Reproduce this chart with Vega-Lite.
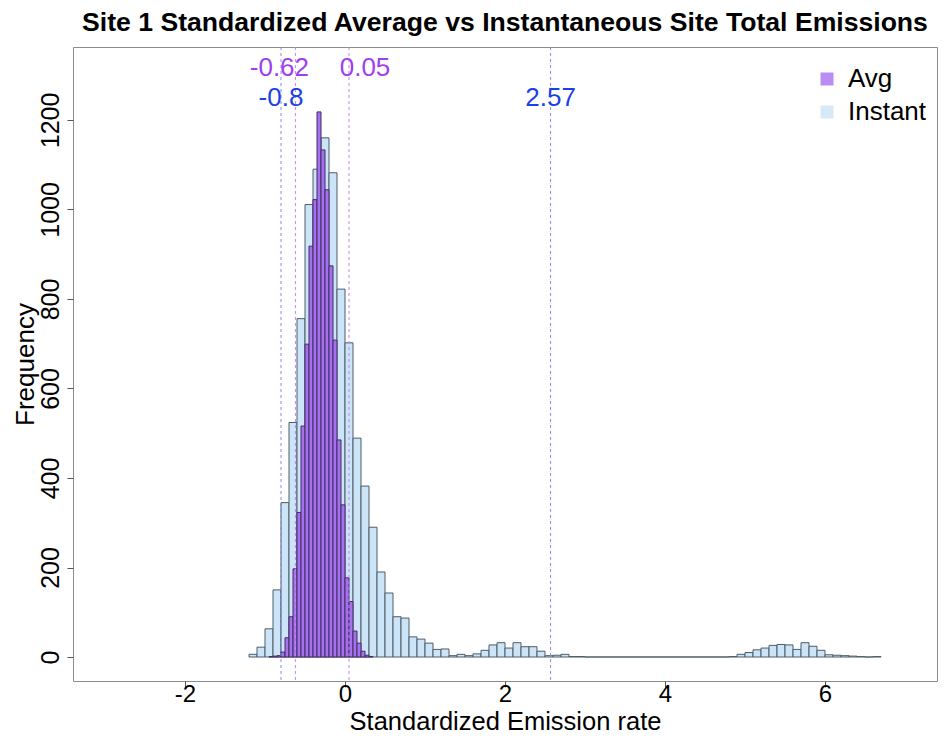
{
  "$schema": "https://vega.github.io/schema/vega-lite/v6.json",
  "width": 864,
  "height": 634,
  "autosize": {"type": "none"},
  "padding": {"left": 73, "top": 47, "right": 14, "bottom": 61},
  "background": "white",
  "title": {"text": "Site 1 Standardized Average vs Instantaneous Site Total Emissions", "font": "Liberation Sans", "fontSize": 26.6, "fontWeight": "bold", "color": "#000000", "anchor": "middle", "offset": 10},
  "config": {"view": {"stroke": "#8c8c8c", "strokeWidth": 1}, "font": "Liberation Sans"},
  "datasets": {
    "hist": [
      {"series": "Instant", "start": -1.2, "end": -1.1, "count": 6},
      {"series": "Instant", "start": -1.1, "end": -1.0, "count": 22},
      {"series": "Instant", "start": -1.0, "end": -0.9, "count": 63},
      {"series": "Instant", "start": -0.9, "end": -0.8, "count": 150},
      {"series": "Instant", "start": -0.8, "end": -0.7, "count": 345},
      {"series": "Instant", "start": -0.7, "end": -0.6, "count": 524},
      {"series": "Instant", "start": -0.6, "end": -0.5, "count": 756},
      {"series": "Instant", "start": -0.5, "end": -0.4, "count": 1011},
      {"series": "Instant", "start": -0.4, "end": -0.3, "count": 1090},
      {"series": "Instant", "start": -0.3, "end": -0.2, "count": 1160},
      {"series": "Instant", "start": -0.2, "end": -0.1, "count": 1082},
      {"series": "Instant", "start": -0.1, "end": 0.0, "count": 822},
      {"series": "Instant", "start": 0.0, "end": 0.1, "count": 702},
      {"series": "Instant", "start": 0.1, "end": 0.2, "count": 489},
      {"series": "Instant", "start": 0.2, "end": 0.3, "count": 382},
      {"series": "Instant", "start": 0.3, "end": 0.4, "count": 290},
      {"series": "Instant", "start": 0.4, "end": 0.5, "count": 190},
      {"series": "Instant", "start": 0.5, "end": 0.6, "count": 143},
      {"series": "Instant", "start": 0.6, "end": 0.7, "count": 90},
      {"series": "Instant", "start": 0.7, "end": 0.8, "count": 87},
      {"series": "Instant", "start": 0.8, "end": 0.9, "count": 45},
      {"series": "Instant", "start": 0.9, "end": 1.0, "count": 40},
      {"series": "Instant", "start": 1.0, "end": 1.1, "count": 31},
      {"series": "Instant", "start": 1.1, "end": 1.2, "count": 17},
      {"series": "Instant", "start": 1.2, "end": 1.3, "count": 18},
      {"series": "Instant", "start": 1.3, "end": 1.4, "count": 3},
      {"series": "Instant", "start": 1.4, "end": 1.5, "count": 6},
      {"series": "Instant", "start": 1.5, "end": 1.6, "count": 3},
      {"series": "Instant", "start": 1.6, "end": 1.7, "count": 7},
      {"series": "Instant", "start": 1.7, "end": 1.8, "count": 15},
      {"series": "Instant", "start": 1.8, "end": 1.9, "count": 27},
      {"series": "Instant", "start": 1.9, "end": 2.0, "count": 32},
      {"series": "Instant", "start": 2.0, "end": 2.1, "count": 20},
      {"series": "Instant", "start": 2.1, "end": 2.2, "count": 32},
      {"series": "Instant", "start": 2.2, "end": 2.3, "count": 23},
      {"series": "Instant", "start": 2.3, "end": 2.4, "count": 23},
      {"series": "Instant", "start": 2.4, "end": 2.5, "count": 13},
      {"series": "Instant", "start": 2.5, "end": 2.6, "count": 3},
      {"series": "Instant", "start": 2.6, "end": 2.7, "count": 4},
      {"series": "Instant", "start": 2.7, "end": 2.8, "count": 6},
      {"series": "Instant", "start": 2.8, "end": 2.9, "count": 1},
      {"series": "Instant", "start": 2.9, "end": 3.0, "count": 1},
      {"series": "Instant", "start": 3.0, "end": 3.1, "count": 0},
      {"series": "Instant", "start": 3.1, "end": 3.2, "count": 0},
      {"series": "Instant", "start": 3.2, "end": 3.3, "count": 0},
      {"series": "Instant", "start": 3.3, "end": 3.4, "count": 0},
      {"series": "Instant", "start": 3.4, "end": 3.5, "count": 0},
      {"series": "Instant", "start": 3.5, "end": 3.6, "count": 0},
      {"series": "Instant", "start": 3.6, "end": 3.7, "count": 0},
      {"series": "Instant", "start": 3.7, "end": 3.8, "count": 0},
      {"series": "Instant", "start": 3.8, "end": 3.9, "count": 0},
      {"series": "Instant", "start": 3.9, "end": 4.0, "count": 0},
      {"series": "Instant", "start": 4.0, "end": 4.1, "count": 0},
      {"series": "Instant", "start": 4.1, "end": 4.2, "count": 0},
      {"series": "Instant", "start": 4.2, "end": 4.3, "count": 0},
      {"series": "Instant", "start": 4.3, "end": 4.4, "count": 0},
      {"series": "Instant", "start": 4.4, "end": 4.5, "count": 0},
      {"series": "Instant", "start": 4.5, "end": 4.6, "count": 0},
      {"series": "Instant", "start": 4.6, "end": 4.7, "count": 0},
      {"series": "Instant", "start": 4.7, "end": 4.8, "count": 0},
      {"series": "Instant", "start": 4.8, "end": 4.9, "count": 1},
      {"series": "Instant", "start": 4.9, "end": 5.0, "count": 6},
      {"series": "Instant", "start": 5.0, "end": 5.1, "count": 10},
      {"series": "Instant", "start": 5.1, "end": 5.2, "count": 16},
      {"series": "Instant", "start": 5.2, "end": 5.3, "count": 20},
      {"series": "Instant", "start": 5.3, "end": 5.4, "count": 26},
      {"series": "Instant", "start": 5.4, "end": 5.5, "count": 28},
      {"series": "Instant", "start": 5.5, "end": 5.6, "count": 27},
      {"series": "Instant", "start": 5.6, "end": 5.7, "count": 17},
      {"series": "Instant", "start": 5.7, "end": 5.8, "count": 32},
      {"series": "Instant", "start": 5.8, "end": 5.9, "count": 24},
      {"series": "Instant", "start": 5.9, "end": 6.0, "count": 15},
      {"series": "Instant", "start": 6.0, "end": 6.1, "count": 5},
      {"series": "Instant", "start": 6.1, "end": 6.2, "count": 4},
      {"series": "Instant", "start": 6.2, "end": 6.3, "count": 3},
      {"series": "Instant", "start": 6.3, "end": 6.4, "count": 2},
      {"series": "Instant", "start": 6.4, "end": 6.5, "count": 1},
      {"series": "Instant", "start": 6.5, "end": 6.6, "count": 0},
      {"series": "Instant", "start": 6.6, "end": 6.7, "count": 1},
      {"series": "Avg", "start": -0.95, "end": -0.9, "count": 1},
      {"series": "Avg", "start": -0.9, "end": -0.85, "count": 2},
      {"series": "Avg", "start": -0.85, "end": -0.8, "count": 3},
      {"series": "Avg", "start": -0.8, "end": -0.75, "count": 11},
      {"series": "Avg", "start": -0.75, "end": -0.7, "count": 43},
      {"series": "Avg", "start": -0.7, "end": -0.65, "count": 90},
      {"series": "Avg", "start": -0.65, "end": -0.6, "count": 197},
      {"series": "Avg", "start": -0.6, "end": -0.55, "count": 323},
      {"series": "Avg", "start": -0.55, "end": -0.5, "count": 516},
      {"series": "Avg", "start": -0.5, "end": -0.45, "count": 699},
      {"series": "Avg", "start": -0.45, "end": -0.4, "count": 918},
      {"series": "Avg", "start": -0.4, "end": -0.35, "count": 1022},
      {"series": "Avg", "start": -0.35, "end": -0.3, "count": 1218},
      {"series": "Avg", "start": -0.3, "end": -0.25, "count": 1133},
      {"series": "Avg", "start": -0.25, "end": -0.2, "count": 1044},
      {"series": "Avg", "start": -0.2, "end": -0.15, "count": 874},
      {"series": "Avg", "start": -0.15, "end": -0.1, "count": 708},
      {"series": "Avg", "start": -0.1, "end": -0.05, "count": 485},
      {"series": "Avg", "start": -0.05, "end": 0.0, "count": 340},
      {"series": "Avg", "start": 0.0, "end": 0.05, "count": 177},
      {"series": "Avg", "start": 0.05, "end": 0.1, "count": 124},
      {"series": "Avg", "start": 0.1, "end": 0.15, "count": 58},
      {"series": "Avg", "start": 0.15, "end": 0.2, "count": 31},
      {"series": "Avg", "start": 0.2, "end": 0.25, "count": 13},
      {"series": "Avg", "start": 0.25, "end": 0.3, "count": 4},
      {"series": "Avg", "start": 0.3, "end": 0.35, "count": 1}
    ],
    "lines": [
      {"series": "Avg", "value": -0.62, "label": "-0.62"},
      {"series": "Avg", "value": 0.05, "label": "0.05"},
      {"series": "Instant", "value": -0.8, "label": "-0.8"},
      {"series": "Instant", "value": 2.57, "label": "2.57"}
    ]
  },
  "layer": [
    {
      "data": {"name": "hist"},
      "transform": [{"filter": "datum.series === 'Instant'"}],
      "mark": {"type": "bar", "stroke": "#4f5c68", "strokeWidth": 1},
      "encoding": {
        "x": {"field": "start", "type": "quantitative",
              "scale": {"domain": [-3.4, 7.4], "nice": false, "zero": false},
              "axis": {"values": [-2, 0, 2, 4, 6], "labelExpr": "'' + datum.value", "title": "Standardized Emission rate", "grid": false, "domain": false,
                       "labelFontSize": 24, "labelColor": "#000000", "labelFont": "Liberation Sans", "labelPadding": -5,
                       "tickSize": 6, "tickColor": "#555555", "titleFontSize": 25.5, "titleFontWeight": "normal", "titleColor": "#000000",
                       "titleFont": "Liberation Sans", "titleY": 40, "titleBaseline": "middle"}},
        "x2": {"field": "end"},
        "y": {"field": "count", "type": "quantitative", "stack": null,
              "scale": {"domain": [-53.6, 1363], "nice": false, "zero": false},
              "axis": {"values": [0, 200, 400, 600, 800, 1000, 1200], "format": "d", "title": "Frequency", "grid": false, "domain": false,
                       "labelFontSize": 25, "labelColor": "#000000", "labelFont": "Liberation Sans", "labelAngle": 270,
                       "labelAlign": "center", "labelBaseline": "bottom", "labelPadding": 4,
                       "tickSize": 6, "tickColor": "#555555", "titleFontSize": 26, "titleFontWeight": "normal", "titleColor": "#000000",
                       "titleFont": "Liberation Sans", "titleAngle": 270, "titleX": -48, "titleY": 317, "titleAlign": "center", "titleBaseline": "middle"}},
        "y2": {"datum": 0},
        "color": {"field": "series", "type": "nominal",
                  "scale": {"domain": ["Avg", "Instant"], "range": ["#a770ef", "#cce4f8"]},
                  "legend": {"title": null, "orient": "none", "legendX": 741, "legendY": 19, "padding": 0,
                             "labelFontSize": 26, "labelFont": "Liberation Sans", "labelColor": "#000000", "labelOffset": 8,
                             "symbolType": "square", "symbolSize": 169, "symbolStrokeWidth": 0, "symbolOpacity": 0.8, "rowPadding": 7}}
      }
    },
    {
      "data": {"name": "hist"},
      "transform": [{"filter": "datum.series === 'Avg'"}],
      "mark": {"type": "bar", "stroke": "#3f2d63", "strokeWidth": 1},
      "encoding": {
        "x": {"field": "start", "type": "quantitative"},
        "x2": {"field": "end"},
        "y": {"field": "count", "type": "quantitative", "stack": null},
        "y2": {"datum": 0},
        "color": {"field": "series", "type": "nominal"}
      }
    },
    {
      "data": {"name": "lines"},
      "transform": [{"filter": "datum.series === 'Avg'"}],
      "mark": {"type": "rule", "color": "#c283ee", "strokeWidth": 1, "strokeDash": [3, 3]},
      "encoding": {"x": {"field": "value", "type": "quantitative"}}
    },
    {
      "data": {"name": "lines"},
      "transform": [{"filter": "datum.series === 'Instant'"}],
      "mark": {"type": "rule", "color": "#8a86ee", "strokeWidth": 1, "strokeDash": [3, 3]},
      "encoding": {"x": {"field": "value", "type": "quantitative"}}
    },
    {
      "data": {"name": "lines"},
      "transform": [{"filter": "datum.label === '-0.62'"}],
      "mark": {"type": "text", "color": "#a040ec", "fontSize": 26, "font": "Liberation Sans", "align": "center", "baseline": "middle", "dx": -16},
      "encoding": {"x": {"field": "value", "type": "quantitative"}, "y": {"datum": 1317}, "text": {"field": "label"}}
    },
    {
      "data": {"name": "lines"},
      "transform": [{"filter": "datum.label === '0.05'"}],
      "mark": {"type": "text", "color": "#a040ec", "fontSize": 26, "font": "Liberation Sans", "align": "center", "baseline": "middle", "dx": 16},
      "encoding": {"x": {"field": "value", "type": "quantitative"}, "y": {"datum": 1317}, "text": {"field": "label"}}
    },
    {
      "data": {"name": "lines"},
      "transform": [{"filter": "datum.series === 'Instant'"}],
      "mark": {"type": "text", "color": "#1c3fe6", "fontSize": 26, "font": "Liberation Sans", "align": "center", "baseline": "middle"},
      "encoding": {"x": {"field": "value", "type": "quantitative"}, "y": {"datum": 1248}, "text": {"field": "label"}}
    }
  ]
}
